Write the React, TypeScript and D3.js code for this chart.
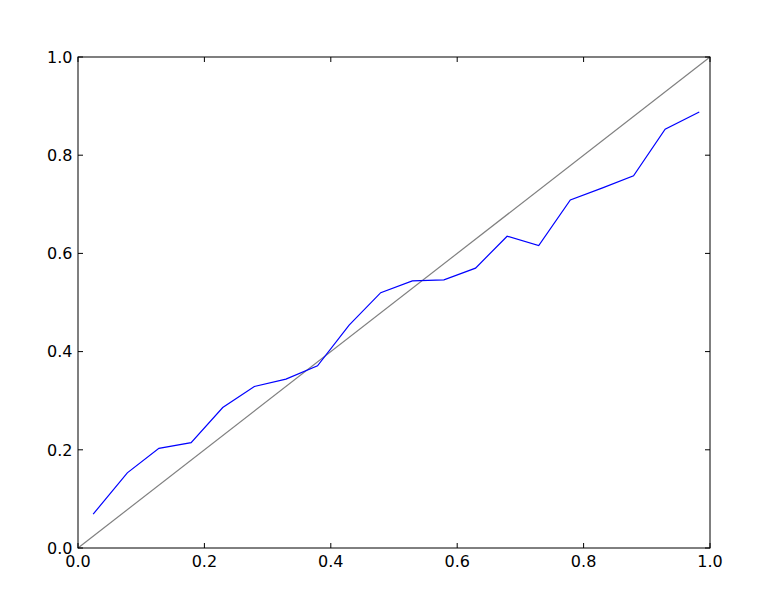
import React from "react";
import * as d3 from "d3";

const xValues = [0.024, 0.078, 0.128, 0.179, 0.229, 0.279, 0.329, 0.379, 0.429, 0.479, 0.529, 0.579, 0.629, 0.679, 0.729, 0.779, 0.829, 0.879, 0.929, 0.983];
const yValues = [0.069, 0.153, 0.203, 0.2145, 0.286, 0.329, 0.344, 0.371, 0.454, 0.52, 0.544, 0.546, 0.57, 0.635, 0.616, 0.709, 0.733, 0.758, 0.853, 0.888];
const diagonal = [0, 1];
const ticks = [0, 0.2, 0.4, 0.6, 0.8, 1.0];

const W = 772, H = 610;
const M = { left: 78, right: 62, top: 57, bottom: 62 };

export default function App() {
  const x = d3.scaleLinear().domain([0, 1]).range([M.left, W - M.right]);
  const y = d3.scaleLinear().domain([0, 1]).range([H - M.bottom, M.top]);
  const line = d3.line<[number, number]>().x(d => x(d[0])).y(d => y(d[1]));
  const pts: [number, number][] = xValues.map((v, i) => [v, yValues[i]]);
  const diag: [number, number][] = diagonal.map(v => [v, v]);
  const x0 = x(0), x1 = x(1), y0 = y(0), y1 = y(1);
  const tl = 5;
  const font = "DejaVu Sans, sans-serif";
  return (
    <svg width={W} height={H} style={{ position: "absolute", left: 0, top: 0, background: "#fff" }}>
      <rect x={0} y={0} width={W} height={H} fill="#fff" />
      <path d={line(diag) || ""} fill="none" stroke="#808080" strokeWidth={1.2} />
      <path d={line(pts) || ""} fill="none" stroke="#0000ff" strokeWidth={1.2} />
      {ticks.map(t => (
        <g key={"t" + t}>
          <line x1={x(t)} x2={x(t)} y1={y0} y2={y0 - tl} stroke="#000" />
          <line x1={x(t)} x2={x(t)} y1={y1} y2={y1 + tl} stroke="#000" />
          <line x1={x0} x2={x0 + tl} y1={y(t)} y2={y(t)} stroke="#000" />
          <line x1={x1} x2={x1 - tl} y1={y(t)} y2={y(t)} stroke="#000" />
          <text x={x(t)} y={y0 + 18.5} fontFamily={font} fontSize={16} textAnchor="middle">{t.toFixed(1)}</text>
          <text x={x0 - 5.5} y={y(t) + 5.8} fontFamily={font} fontSize={16} textAnchor="end">{t.toFixed(1)}</text>
        </g>
      ))}
      <rect x={x0} y={y1} width={x1 - x0} height={y0 - y1} fill="none" stroke="#000" strokeWidth={1} />
    </svg>
  );
}
